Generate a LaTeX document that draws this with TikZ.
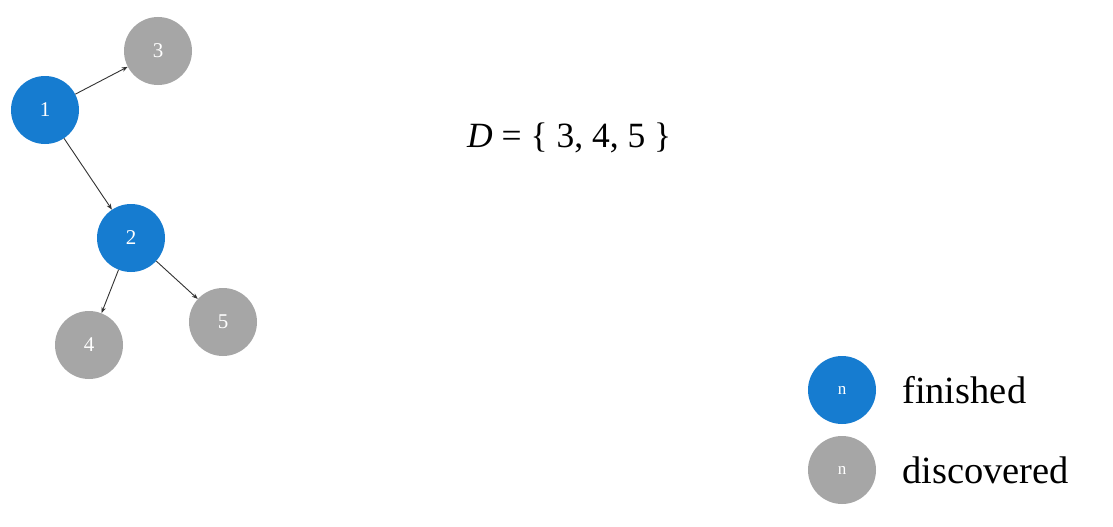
\documentclass[tikz,border=0pt]{standalone}
\usepackage{fontspec}
\setmainfont{Liberation Serif}
\usetikzlibrary{arrows.meta}
\definecolor{finblue}{RGB}{22,124,208}
\definecolor{discgray}{RGB}{166,166,166}
\definecolor{edgegray}{RGB}{50,50,50}
\tikzset{
  vtx/.style={circle, minimum size=68pt, inner sep=0pt, text=white, font=\fontsize{21}{21}\selectfont},
  fin/.style={vtx, fill=finblue},
  disc/.style={vtx, fill=discgray},
  legvtx/.style={font=\fontsize{17}{17}\selectfont},
  edge/.style={draw=edgegray, line width=0.9pt, -{Stealth[length=6pt,width=4.5pt]}},
  legtext/.style={anchor=base west, inner sep=0pt, font=\fontsize{38.5}{38.5}\selectfont, text=black}
}
\begin{document}
\begin{tikzpicture}[x=1pt,y=-1pt]
\useasboundingbox[fill=white] (0,0) rectangle (1113,527);
\node[fin]  (n1) at (45,110) {1};
\node[disc] (n3) at (158,51) {3};
\node[fin]  (n2) at (131,238) {2};
\node[disc] (n4) at (89,345) {4};
\node[disc] (n5) at (223,322) {5};
\draw[edge] (n1) -- (n3);
\draw[edge] (n1) -- (n2);
\draw[edge] (n2) -- (n4);
\draw[edge] (n2) -- (n5);
\node[anchor=base west, inner sep=0pt, font=\fontsize{35.5}{35.5}\selectfont] (dset) at (467,147) {\textit{D} = \{ 3, 4, 5 \}};
\node[fin, legvtx]  (lf) at (842,390) {n};
\node[disc, legvtx] (ld) at (842,470) {n};
\node[legtext] (lft) at (902,403) {finished};
\node[legtext] (ldt) at (902,483) {discovered};
\end{tikzpicture}
\end{document}
